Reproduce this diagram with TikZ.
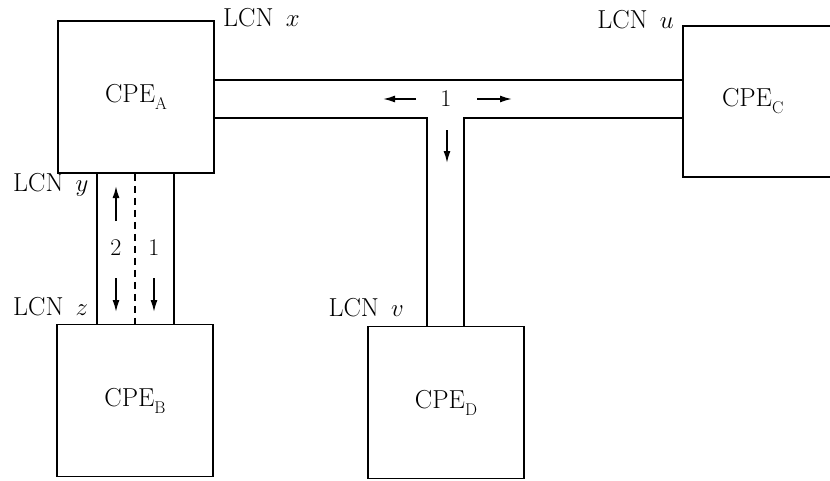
\documentclass[tikz,border=0pt]{standalone}
\usetikzlibrary{arrows.meta}
\newcommand{\cpesub}[1]{\raisebox{-7pt}{\fontsize{17}{17}\selectfont #1}}
\begin{document}
\begin{tikzpicture}[x=1pt,y=-1pt,
  box/.style={draw,line width=1.6pt,inner sep=0pt,minimum width=156pt,minimum height=152pt,font=\fontsize{26}{30}\selectfont},
  pipe/.style={line width=1.5pt},
  lbl/.style={inner sep=0pt,font=\fontsize{26}{30}\selectfont},
  num/.style={inner sep=0pt,font=\fontsize{24}{28}\selectfont},
  flow/.style={line width=1.7pt,-{Latex[length=12pt,width=7pt]}}]
\clip (0,0) rectangle (830,480);
\fill[white] (0,0) rectangle (830,480);
% boxes
\node[box] (A) at (136,97) {CPE\cpesub{A}};
\node[box] (B) at (135,400.5) {CPE\cpesub{B}};
\node[box] (D) at (446,402.5) {CPE\cpesub{D}};
\node[box,minimum width=160pt,minimum height=151pt,text width=150pt,align=left] (C) at (763,101.5) {\hspace{34pt}CPE\cpesub{C}};
% horizontal pipe A--C with branch to D
\draw[pipe] (A.east |- 0,80) -- (C.west |- 0,80);
\draw[pipe] (A.east |- 0,118) -- (427,118) -- (427,0 |- D.north);
\draw[pipe] (C.west |- 0,118) -- (464,118) -- (464,0 |- D.north);
% vertical pipe A--B
\draw[pipe] (97,0 |- A.south) -- (97,0 |- B.north);
\draw[pipe] (174,0 |- A.south) -- (174,0 |- B.north);
\draw[pipe,dash pattern=on 7pt off 5pt] (135,0 |- A.south) -- (135,0 |- B.north);
% labels
\node[lbl,anchor=west] (lx) at (223,18) {LCN\,\ $x$};
\node[lbl,anchor=east] (lu) at (674,20) {LCN\,\ $u$};
\node[lbl,anchor=west] (ly) at (13,185) {LCN\,\ $y$};
\node[lbl,anchor=west] (lz) at (13,307) {LCN\,\ $z$};
\node[lbl,anchor=east] (lv) at (404,308) {LCN\,\ $v$};
% flow numbers
\node[num] (n1) at (446,99) {1};
\node[num] (n2) at (116,248) {2};
\node[num] (n3) at (154,248) {1};
% flow arrows
\coordinate (a1s) at (416,99); \coordinate (a1e) at (383,99);
\coordinate (a2s) at (477,99); \coordinate (a2e) at (512,99);
\coordinate (a3s) at (447,130); \coordinate (a3e) at (447,163);
\coordinate (a4s) at (116,221); \coordinate (a4e) at (116,186);
\coordinate (a5s) at (116,278); \coordinate (a5e) at (116,312);
\coordinate (a6s) at (154,278); \coordinate (a6e) at (154,312);
\draw[flow] (a1s) -- (a1e);
\draw[flow] (a2s) -- (a2e);
\draw[flow] (a3s) -- (a3e);
\draw[flow] (a4s) -- (a4e);
\draw[flow] (a5s) -- (a5e);
\draw[flow] (a6s) -- (a6e);
\end{tikzpicture}
\end{document}
